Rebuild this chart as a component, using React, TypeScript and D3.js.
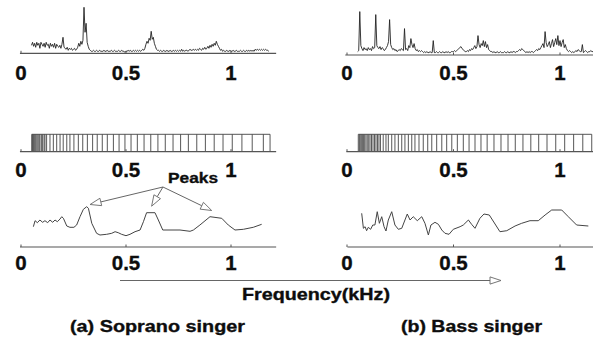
import React from "react";
import * as d3 from "d3";

// ---------- data ----------
const TICK_VALUES = [0, 0.5, 1];
const TICK_LABELS = ["0", "0.5", "1"];

// spectra sampled from 0.050 kHz every 0.005 kHz (amplitude, arbitrary units)
const SPEC_START = 0.05;
const SPEC_STEP = 0.005;
const sopranoSpectrum = [
  7, 10, 6, 9, 5, 10, 7, 9, 4, 10,
  8, 6, 9, 5, 10, 7, 8, 4, 9, 6,
  8, 5, 9, 4, 8, 6, 5, 7, 4, 8,
  15, 5, 4, 3, 5, 2, 4, 3, 4, 2,
  3, 4, 2, 3, 5, 9, 6, 11, 8, 12,
  45, 20, 29, 10, 6, 3, 2, 1, 1, 2,
  1, 1, 2, 1, 1, 2, 1, 1, 1, 2,
  1, 1, 2, 1, 1, 1, 2, 1, 1, 2,
  1, 1, 1, 2, 1, 1, 2, 1, 1, 0,
  1, 1, 2, 1, 2, 1, 1, 2, 1, 2,
  1, 2, 1, 2, 1, 2, 3, 2, 4, 8,
  11, 9, 14, 12, 21, 13, 15, 9, 6, 3,
  2, 2, 1, 2, 1, 1, 2, 1, 1, 2,
  1, 1, 2, 1, 1, 2, 1, 2, 1, 2,
  1, 2, 1, 3, 1, 2, 1, 2, 2, 1,
  2, 3, 2, 2, 3, 2, 3, 2, 3, 2,
  4, 3, 2, 4, 3, 5, 3, 4, 6, 4,
  7, 5, 8, 6, 9, 7, 11, 8, 6, 4,
  2, 3, 1, 2, 1, 1, 2, 1, 1, 2,
  1, 1, 2, 1, 1, 2, 1, 1, 1, 2,
  1, 1, 2, 1, 1, 2, 1, 2, 1, 2,
  1, 2, 1, 3, 2, 3, 2, 3, 2, 3,
  2, 3, 2, 3, 2, 2, 1,
];
const bassSpectrum = [
  2, 3, 42, 8, 5, 3, 6, 4, 5, 3,
  6, 4, 5, 3, 7, 5, 6, 39, 8, 6,
  5, 7, 4, 6, 5, 3, 4, 6, 8, 12,
  34, 9, 6, 4, 5, 3, 4, 2, 3, 4,
  3, 5, 4, 3, 25, 4, 5, 3, 8, 6,
  15, 9, 6, 10, 5, 3, 4, 2, 3, 2,
  3, 2, 1, 2, 1, 2, 1, 1, 2, 1,
  1, 13, 1, 1, 2, 1, 1, 2, 1, 1,
  2, 1, 1, 2, 1, 2, 1, 1, 2, 2,
  2, 3, 2, 3, 4, 5, 6, 7, 5, 4,
  3, 2, 2, 3, 2, 4, 3, 5, 4, 6,
  8, 5, 7, 18, 9, 6, 10, 8, 13, 7,
  12, 6, 9, 4, 3, 2, 2, 1, 2, 1,
  1, 2, 1, 1, 2, 1, 1, 1, 2, 1,
  1, 2, 1, 1, 2, 1, 2, 2, 1, 2,
  2, 3, 4, 3, 5, 4, 3, 2, 1, 2,
  1, 2, 1, 2, 2, 1, 2, 3, 4, 3,
  5, 4, 6, 8, 10, 6, 22, 11, 7, 9,
  12, 6, 10, 14, 7, 11, 15, 9, 18, 8,
  13, 7, 11, 14, 6, 9, 5, 3, 2, 3,
  2, 1, 2, 1, 2, 3, 2, 4, 3, 2,
  2, 9, 1, 2, 3, 2, 1, 2, 2, 3,
  2, 2,
];

// filter-bank band edges (kHz)
const sopranoBands = [
  0.051, 0.055, 0.059, 0.063, 0.067, 0.071, 0.076, 0.081, 0.086, 0.09,
  0.097, 0.103, 0.11, 0.114, 0.122, 0.138, 0.154, 0.17, 0.186, 0.201,
  0.218, 0.233, 0.252, 0.273, 0.294, 0.316, 0.341, 0.363, 0.387, 0.411,
  0.44, 0.467, 0.495, 0.524, 0.554, 0.586, 0.618, 0.652, 0.687, 0.724,
  0.76, 0.797, 0.837, 0.878, 0.92, 0.962, 1.006, 1.052, 1.101, 1.154, 1.186,
];
const bassBands = [
  0.053, 0.058, 0.062, 0.067, 0.072, 0.077, 0.083, 0.089, 0.095, 0.102,
  0.108, 0.115, 0.122, 0.129, 0.136, 0.143, 0.15, 0.157, 0.17, 0.183,
  0.194, 0.21, 0.225, 0.241, 0.257, 0.272, 0.288, 0.304, 0.319, 0.338,
  0.358, 0.379, 0.398, 0.421, 0.445, 0.468, 0.492, 0.518, 0.546, 0.573,
  0.601, 0.629, 0.658, 0.69, 0.723, 0.756, 0.79, 0.826, 0.863, 0.9,
  0.939, 0.98, 1.022, 1.064, 1.107, 1.149,
];

// smoothed envelopes
const sopranoEnvFreq = [
  0.059, 0.067, 0.078, 0.09, 0.103, 0.114, 0.127, 0.138, 0.151, 0.162,
  0.173, 0.186, 0.194, 0.202, 0.218, 0.233, 0.252, 0.265, 0.281, 0.297,
  0.313, 0.321, 0.337, 0.36, 0.376, 0.408, 0.432, 0.448, 0.463, 0.479,
  0.5, 0.519, 0.543, 0.567, 0.583, 0.598, 0.638, 0.654, 0.675, 0.757,
  0.805, 0.821, 0.852, 0.9, 0.956, 0.987, 1.019, 1.059, 1.106, 1.146,
];
const sopranoEnvValue = [
  2.03, 2.63, 2.43, 2.7, 2.47, 2.63, 2.43, 2.7, 2.47, 2.7,
  2.53, 2.8, 3.03, 2.87, 2.1, 1.97, 1.97, 2.2, 3.03, 3.77,
  4.03, 3.87, 2.37, 1.37, 1.2, 1.27, 1.37, 1.53, 1.43, 1.27,
  1.13, 1.27, 1.53, 1.7, 2.53, 3.43, 3.43, 2.7, 1.7, 1.7,
  1.57, 1.7, 2.2, 3.03, 2.87, 2.2, 1.7, 1.77, 1.97, 2.27,
];
const bassEnvFreq = [
  0.069, 0.077, 0.085, 0.092, 0.1, 0.111, 0.121, 0.131, 0.142, 0.152,
  0.163, 0.174, 0.183, 0.194, 0.21, 0.225, 0.241, 0.257, 0.283, 0.296,
  0.311, 0.33, 0.351, 0.366, 0.382, 0.394, 0.413, 0.429, 0.445, 0.46,
  0.479, 0.499, 0.531, 0.546, 0.57, 0.585, 0.601, 0.624, 0.643, 0.668,
  0.695, 0.718, 0.75, 0.789, 0.82, 0.859, 0.898, 0.93, 0.961, 1.008,
  1.039, 1.078, 1.133,
];
const bassEnvValue = [
  3.37, 1.87, 2.03, 1.63, 1.97, 1.77, 2.2, 2.2, 3.53, 2.37,
  3.03, 2.03, 1.6, 2.7, 3.53, 2.2, 1.77, 1.87, 3.3, 2.7,
  3.03, 2.63, 3.03, 2.37, 1.2, 2.2, 2.47, 2.27, 1.7, 1.37,
  1.27, 1.77, 2.03, 2.2, 2.7, 2.27, 1.87, 2.87, 3.3, 3.2,
  2.3, 1.53, 1.63, 2.1, 2.37, 2.63, 2.63, 3.2, 3.7, 3.7,
  3.03, 2.2, 2.1,
];

// "Peaks" annotation: origin and arrow tips (kHz, envelope units)
const PEAK_ORIGIN = { f: 0.676, v: 6.0 };
const PEAK_TIPS = [
  { f: 0.329, v: 4.2 },
  { f: 0.622, v: 4.03 },
  { f: 0.908, v: 3.6 },
];

// ---------- layout ----------
const W = 593;
const H = 340;
const FONT = "'Liberation Sans', Arial, Helvetica, sans-serif";
const AXIS_COLOR = "#555";
const TEXT_COLOR = "#0d0d0d";

const xL = d3.scaleLinear().domain([0, 1]).range([21, 231]);
const xR = d3.scaleLinear().domain([0, 1]).range([347, 560]);

const rows = {
  top: { axisL: 53.3, axisR: 55, label: 80 },
  mid: { axis: 151.7, boxTop: 134.3, label: 177 },
  bot: { axis: 247, label: 270 },
};

const yTopL = d3.scaleLinear().domain([0, 45]).range([52.3, 7.3]);
const yTopR = d3.scaleLinear().domain([0, 42]).range([53.6, 11.6]);
const yBot = d3.scaleLinear().domain([0, 5]).range([247, 197]);

function Axis({ x, y, x1, x2 }: { x: d3.ScaleLinear<number, number>; y: number; x1: number; x2: number }) {
  return (
    <g>
      <line x1={x1} x2={x2} y1={y} y2={y} stroke={AXIS_COLOR} strokeWidth={1.2} />
      {TICK_VALUES.map((t) => (
        <line key={t} x1={x(t)} x2={x(t)} y1={y} y2={y - 2.5} stroke={AXIS_COLOR} strokeWidth={1} />
      ))}
    </g>
  );
}

function TickLabels({ x, y }: { x: d3.ScaleLinear<number, number>; y: number }) {
  return (
    <g>
      {TICK_VALUES.map((t, i) => (
        <text
          key={t}
          x={x(t)}
          y={y}
          textAnchor="middle"
          fontFamily={FONT}
          fontWeight="bold"
          fontSize={20.5}
          fill={TEXT_COLOR}
          stroke={TEXT_COLOR}
          strokeWidth={0.35}
        >
          {TICK_LABELS[i]}
        </text>
      ))}
    </g>
  );
}

function Spectrum({ data, x, y }: { data: number[]; x: d3.ScaleLinear<number, number>; y: d3.ScaleLinear<number, number> }) {
  const line = d3
    .line<number>()
    .x((_, i) => x(SPEC_START + i * SPEC_STEP))
    .y((d) => y(d));
  return <path d={line(data) || ""} fill="none" stroke="#222" strokeWidth={0.9} />;
}

function Bands({ bands, x, top, bottom }: { bands: number[]; x: d3.ScaleLinear<number, number>; top: number; bottom: number }) {
  const first = x(bands[0]);
  const last = x(bands[bands.length - 1]);
  return (
    <g stroke="#444" strokeWidth={0.9}>
      <line x1={first} x2={last} y1={top} y2={top} />
      {bands.map((b, i) => (
        <line key={i} x1={x(b)} x2={x(b)} y1={top} y2={bottom} />
      ))}
    </g>
  );
}

function Envelope({ f, v, x }: { f: number[]; v: number[]; x: d3.ScaleLinear<number, number> }) {
  const line = d3
    .line<number>()
    .x((d) => x(d))
    .y((_, i) => yBot(v[i]));
  return <path d={line(f) || ""} fill="none" stroke="#444" strokeWidth={1} />;
}

function OpenArrow({ x1, y1, x2, y2, len = 11, half = 3.8 }: { x1: number; y1: number; x2: number; y2: number; len?: number; half?: number }) {
  const dx = x2 - x1;
  const dy = y2 - y1;
  const d = Math.hypot(dx, dy);
  const ux = dx / d;
  const uy = dy / d;
  const bx = x2 - ux * len;
  const by = y2 - uy * len;
  const px = -uy * half;
  const py = ux * half;
  const pts = `${x2},${y2} ${bx + px},${by + py} ${bx - px},${by - py}`;
  return (
    <g>
      <line x1={x1} y1={y1} x2={bx} y2={by} stroke="#666" strokeWidth={1} />
      <polygon points={pts} fill="#fff" stroke="#666" strokeWidth={0.9} />
    </g>
  );
}

function Label({ x, y, size, len, anchor = "start", children }: { x: number; y: number; size: number; len: number; anchor?: string; children: React.ReactNode }) {
  return (
    <text
      x={x}
      y={y}
      textAnchor={anchor}
      fontFamily={FONT}
      fontWeight="bold"
      fontSize={size}
      textLength={len}
      lengthAdjust="spacingAndGlyphs"
      fill={TEXT_COLOR}
      stroke={TEXT_COLOR}
      strokeWidth={0.35}
    >
      {children}
    </text>
  );
}

export default function App() {
  const ox = xL(PEAK_ORIGIN.f);
  const oy = yBot(PEAK_ORIGIN.v);
  return (
    <svg
      width={W}
      height={H}
      viewBox={`0 0 ${W} ${H}`}
      style={{ position: "absolute", left: 0, top: 0, background: "#fff" }}
    >
      <rect width={W} height={H} fill="#fff" />

      {/* top row: spectra */}
      <Spectrum data={sopranoSpectrum} x={xL} y={yTopL} />
      <Spectrum data={bassSpectrum} x={xR} y={yTopR} />
      <Axis x={xL} y={rows.top.axisL} x1={xL(-0.005)} x2={xL(1.215)} />
      <Axis x={xR} y={rows.top.axisR} x1={xR(-0.008)} x2={W} />
      <TickLabels x={xL} y={rows.top.label} />
      <TickLabels x={xR} y={rows.top.label} />

      {/* middle row: filter banks */}
      <Bands bands={sopranoBands} x={xL} top={rows.mid.boxTop} bottom={rows.mid.axis} />
      <Bands bands={bassBands} x={xR} top={rows.mid.boxTop} bottom={rows.mid.axis} />
      <Axis x={xL} y={rows.mid.axis} x1={xL(-0.005)} x2={xL(1.215)} />
      <Axis x={xR} y={rows.mid.axis} x1={xR(-0.003)} x2={W} />
      <TickLabels x={xL} y={rows.mid.label} />
      <TickLabels x={xR} y={rows.mid.label} />

      {/* bottom row: envelopes */}
      <Envelope f={sopranoEnvFreq} v={sopranoEnvValue} x={xL} />
      <Envelope f={bassEnvFreq} v={bassEnvValue} x={xR} />
      <Axis x={xL} y={rows.bot.axis} x1={xL(-0.005)} x2={xL(1.215)} />
      <Axis x={xR} y={rows.bot.axis} x1={xR(0.002)} x2={W} />
      <TickLabels x={xL} y={rows.bot.label} />
      <TickLabels x={xR} y={rows.bot.label} />

      {/* Peaks annotation */}
      <Label x={193} y={183.3} size={15} len={50} anchor="middle">Peaks</Label>
      {PEAK_TIPS.map((p, i) => (
        <OpenArrow key={i} x1={ox} y1={oy} x2={xL(p.f)} y2={yBot(p.v) - 0.5} />
      ))}

      {/* frequency arrow */}
      <OpenArrow x1={120} y1={280.5} x2={501} y2={280.5} len={11} half={3.6} />
      <Label x={316} y={300} size={16.5} len={148} anchor="middle">Frequency(kHz)</Label>

      {/* captions */}
      <Label x={70} y={332} size={17} len={175}>(a) Soprano singer</Label>
      <Label x={401} y={332} size={17} len={141}>(b) Bass singer</Label>
    </svg>
  );
}
